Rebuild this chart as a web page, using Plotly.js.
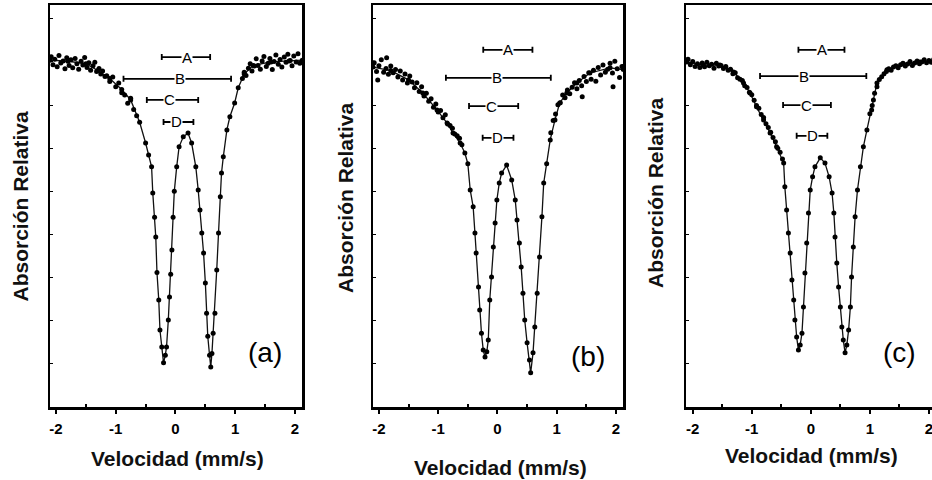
<!DOCTYPE html>
<html><head><meta charset="utf-8">
<script src="https://cdn.plot.ly/plotly-3.0.1.min.js"></script>
<style>html,body{margin:0;padding:0;overflow:hidden;background:#fff}#c{width:940px;height:480px}</style>
</head><body><div id="c"></div>
<script>
// ---- Panel (a) ----
const velA = [-2.1,-1.8,-1.5,-1.3,-1.1,-0.9,-0.75,-0.6,-0.5,-0.45,-0.4,-0.38,-0.35,-0.33,-0.31,-0.28,-0.26,-0.23,-0.2,-0.17,-0.15,-0.12,-0.1,-0.08,-0.06,-0.04,-0.02,0.02,0.06,0.13,0.21,0.27,0.34,0.38,0.41,0.44,0.47,0.5,0.52,0.54,0.57,0.59,0.61,0.63,0.66,0.69,0.72,0.75,0.77,0.8,0.86,0.91,0.99,1.05,1.15,1.3,1.6,1.9,2.12];
const fitA = [100.5,100.2,99.5,97.5,95.2,92.0,89.0,82.5,76.5,73.0,69.6,62.0,55.0,49.3,39.0,31.0,22.3,17.4,12.8,15.0,17.4,25.2,31.9,38.5,45.5,55.0,62.5,69.6,75.4,78.3,79.4,76.5,69.6,62.9,57.1,50.4,44.6,35.9,27.2,20.5,15.0,11.6,15.5,21.4,27.2,39.7,50.4,60.9,67.8,72.5,80.3,84.1,88.1,92.5,96.5,99.0,100.0,100.3,100.5];
const wingVelA = [-2.08,-2.05,-2.02,-1.98,-1.95,-1.92,-1.88,-1.85,-1.82,-1.78,-1.75,-1.72,-1.68,-1.65,-1.62,-1.58,-1.55,-1.52,-1.48,-1.45,-1.42,-1.38,-1.35,-1.32,-1.28,-1.25,-1.22,-1.18,-1.15,
  -1.1,-1.05,-1.0,-0.95,-0.9,-0.85,-0.8,-0.75,-0.7,-0.65,
  1.12,1.15,1.18,1.22,1.25,1.28,1.32,1.35,1.38,1.42,1.45,1.48,1.52,1.55,1.58,1.62,1.65,1.68,1.72,1.75,1.78,1.82,1.85,1.88,1.92,1.95,1.98,2.02,2.05,2.08];
const wingA = [101.5,99.2,100.8,98.6,101.9,99.7,100.3,98.0,101.2,99.0,100.6,98.3,101.0,99.5,97.9,100.2,99.1,101.3,98.4,99.8,97.6,98.9,99.9,97.2,98.1,96.5,97.4,95.8,96.0,
  94.3,95.6,92.8,93.9,91.1,90.4,88.0,89.5,86.2,84.4,
  95.2,97.0,96.1,98.2,99.5,97.4,98.8,100.9,99.0,97.9,100.3,101.6,98.7,99.6,101.0,97.8,100.1,102.0,99.3,100.7,98.5,101.4,99.9,102.2,100.4,98.9,101.7,100.0,102.4,99.6];

// ---- Panel (b) ----
const velB = [-2.1,-1.8,-1.5,-1.26,-1.02,-0.85,-0.75,-0.63,-0.55,-0.5,-0.46,-0.41,-0.38,-0.36,-0.32,-0.3,-0.27,-0.24,-0.21,-0.18,-0.155,-0.13,-0.1,-0.07,-0.04,-0.01,0.03,0.07,0.155,0.24,0.3,0.33,0.37,0.4,0.43,0.46,0.5,0.54,0.56,0.6,0.63,0.67,0.71,0.75,0.78,0.83,0.89,0.97,1.05,1.17,1.34,1.56,1.9,2.12];
const fitB = [98.5,97.5,94.8,91.0,86.1,82.3,79.4,76.5,73.6,70.5,62.9,58.0,50.4,44.6,34.8,28.1,21.4,16.5,14.5,16.0,19.4,31.0,37.7,46.4,53.3,60.0,64.9,67.8,70.1,65.8,60.0,54.2,47.5,40.6,33.0,25.2,18.6,13.6,9.9,15.7,23.2,33.0,43.5,55.1,64.9,70.5,77.4,83.2,88.1,91.0,93.9,96.8,98.3,97.8];
const wingVelB = [-2.08,-2.04,-2.02,-2.0,-1.96,-1.92,-1.88,-1.87,-1.84,-1.8,-1.76,-1.72,-1.68,-1.64,-1.6,-1.56,-1.52,-1.48,-1.44,-1.4,-1.36,-1.32,-1.28,-1.24,-1.2,-1.16,-1.12,-1.08,-1.04,-1.0,-0.96,-0.92,-0.88,-0.84,-0.8,-0.76,-0.72,-0.68,-0.64,-0.6,
  0.9,0.94,0.98,1.02,1.06,1.1,1.14,1.18,1.22,1.26,1.3,1.34,1.38,1.42,1.43,1.46,1.5,1.54,1.58,1.62,1.66,1.7,1.74,1.78,1.82,1.86,1.9,1.94,1.95,1.98,2.02,2.06,2.1];
const wingB = [99.8,97.2,94.8,98.9,100.6,97.0,98.1,101.2,96.4,98.8,96.9,97.8,95.6,97.4,94.8,96.5,93.9,95.9,94.2,92.5,94.0,91.4,92.8,90.1,90.9,88.6,89.3,86.9,87.8,85.5,85.9,83.8,84.7,82.0,81.6,80.8,79.1,78.6,77.9,76.0,
  79.5,83.0,84.9,87.6,88.2,90.4,89.6,91.9,90.8,92.7,94.0,92.2,94.6,93.1,89.9,95.8,94.3,96.9,95.0,97.6,94.4,98.4,96.2,99.1,97.0,97.9,99.6,96.8,92.8,100.2,98.0,95.5,98.7];

// ---- Panel (c) ----
const velC = [-2.1,-1.82,-1.54,-1.31,-1.14,-1.03,-0.92,-0.8,-0.69,-0.58,-0.46,-0.44,-0.41,-0.38,-0.35,-0.32,-0.29,-0.27,-0.24,-0.21,-0.18,-0.15,-0.125,-0.1,-0.07,-0.04,-0.01,0.03,0.07,0.16,0.24,0.31,0.36,0.39,0.41,0.44,0.47,0.5,0.525,0.55,0.58,0.61,0.64,0.67,0.69,0.72,0.75,0.79,0.84,0.89,0.95,1.03,1.06,1.12,1.29,1.57,1.85,2.12];
const fitC = [100.0,99.1,99.1,97.1,93.9,91.0,87.0,83.2,79.4,75.4,70.7,63.8,57.1,50.4,44.6,36.8,31.0,25.2,20.3,16.5,18.0,21.4,29.0,38.8,47.5,56.2,62.9,66.7,69.6,72.2,70.7,66.7,62.0,56.2,49.3,41.7,34.8,29.0,23.2,19.4,15.7,18.0,22.3,29.0,37.7,46.4,55.1,62.9,69.6,75.4,80.3,86.1,89.0,93.9,97.7,99.4,100.0,100.0];
const wingVelC = [-2.08,-2.04,-2.0,-1.96,-1.92,-1.88,-1.84,-1.8,-1.76,-1.72,-1.68,-1.64,-1.6,-1.56,-1.52,-1.48,-1.44,-1.4,-1.36,-1.32,-1.28,-1.24,-1.2,-1.16,-1.12,-1.08,-1.04,-1.0,-0.96,-0.92,-0.88,-0.84,-0.8,-0.76,-0.72,-0.68,-0.64,-0.6,-0.56,-0.52,-0.48,
  1.0,1.04,1.08,1.12,1.16,1.2,1.24,1.28,1.32,1.36,1.4,1.44,1.48,1.52,1.56,1.6,1.64,1.68,1.72,1.76,1.8,1.84,1.88,1.92,1.96,2.0,2.04,2.08,2.12];
const wingC = [100.8,99.2,100.1,98.7,99.5,98.4,99.7,98.6,99.9,98.9,99.3,98.2,99.6,98.8,99.0,98.1,98.7,97.6,97.9,96.6,96.9,95.4,95.0,94.6,93.1,92.6,91.2,90.5,88.9,87.4,86.6,84.8,83.9,82.1,81.0,79.6,78.1,76.9,75.0,73.8,71.9,
  85.0,87.4,90.9,92.8,94.9,95.7,96.6,97.2,98.0,97.6,98.5,98.9,98.3,99.2,99.6,98.8,99.4,100.1,99.0,99.7,100.3,99.5,100.0,100.6,99.8,100.4,99.9,100.7,100.2];

// ---- Range bars A-D ----
const barNames = ['A','B','C','D'];
const barLoA = [-0.23,-0.87,-0.48,-0.20], barHiA = [0.58,0.93,0.38,0.30], barYA = [101.4,95.1,89.0,82.6], barMidA = [0.19,0.075,-0.10,0.02];
const barLoB = [-0.24,-0.87,-0.48,-0.25], barHiB = [0.59,0.90,0.35,0.27], barYB = [103.5,95.4,87.2,78.0], barMidB = [0.18,-0.01,-0.10,0.00];
const barLoC = [-0.21,-0.86,-0.47,-0.24], barHiC = [0.57,0.94,0.34,0.28], barYC = [103.5,95.9,87.5,78.6], barMidC = [0.19,-0.11,-0.08,0.02];

const panelLabels = ['(a)','(b)','(c)'];
const panelLabelPos = [[1.5,15.7],[1.52,14.5],[1.51,15.7]];
const tickVals = [-2,-1,0,1,2];
const tickText = ['-2','-1','0','1','2'];
const xTitle = 'Velocidad (mm/s)';
const yTitle = 'Absorción Relativa';

const FONT = 'Liberation Sans, Arial, Helvetica, sans-serif';
const W = 940, H = 480;

const panels = [
  {vel: velA, fit: fitA, wv: wingVelA, wy: wingA, lo: barLoA, hi: barHiA, by: barYA, mid: barMidA,
   dom: [50, 302], range: [-2.1, 2.117], yt: [20, 206.5], xt: [177, 458]},
  {vel: velB, fit: fitB, wv: wingVelB, wy: wingB, lo: barLoB, hi: barHiB, by: barYB, mid: barMidB,
   dom: [373, 623], range: [-2.1, 2.118], yt: [345, 198], xt: [500, 467]},
  {vel: velC, fit: fitC, wv: wingVelC, wy: wingC, lo: barLoC, hi: barHiC, by: barYC, mid: barMidC,
   dom: [686, 936], range: [-2.114, 2.12], yt: [655, 193], xt: [811, 455]}
];

const traces = [];
const layout = {
  width: W, height: H, margin: {l: 0, r: 0, t: 0, b: 0},
  paper_bgcolor: '#fff', plot_bgcolor: '#fff', showlegend: false,
  font: {family: FONT, color: '#000'},
  annotations: []
};

panels.forEach((p, i) => {
  const s = i === 0 ? '' : String(i + 1);
  const xa = 'x' + s, ya = 'y' + s;
  // fitted curve
  traces.push({x: p.vel, y: p.fit, xaxis: xa, yaxis: ya, type: 'scatter', mode: 'lines',
    line: {color: '#111', width: 1.3}, hoverinfo: 'skip'});
  // data points
  traces.push({x: p.vel.concat(p.wv), y: p.fit.concat(p.wy), xaxis: xa, yaxis: ya, type: 'scatter', mode: 'markers',
    marker: {color: '#000', size: 5, symbol: 'circle'}, hoverinfo: 'skip'});
  // range bars
  traces.push({x: p.mid, y: p.by, xaxis: xa, yaxis: ya, type: 'scatter', mode: 'markers',
    marker: {size: 1, color: 'rgba(0,0,0,0)'},
    error_x: {type: 'data', symmetric: false,
      array: p.hi.map((h, k) => h - p.mid[k]),
      arrayminus: p.lo.map((l, k) => p.mid[k] - l),
      color: '#000', thickness: 1.8, width: 3},
    hoverinfo: 'skip'});
  barNames.forEach((n, k) => {
    layout.annotations.push({xref: xa, yref: ya, x: p.mid[k], y: p.by[k], text: n, showarrow: false,
      bgcolor: '#fff', borderpad: 0, font: {family: FONT, size: 15, color: '#000'}});
  });
  layout.annotations.push({xref: xa, yref: ya, x: panelLabelPos[i][0], y: panelLabelPos[i][1], text: panelLabels[i],
    showarrow: false, font: {family: FONT, size: 28, color: '#000'}});
  layout.annotations.push({xref: 'paper', yref: 'paper', x: p.yt[0] / W, y: 1 - p.yt[1] / H, text: yTitle,
    textangle: -90, showarrow: false, xanchor: 'center', yanchor: 'middle',
    font: {family: FONT, size: 21, color: '#111', weight: 'bold'}});
  layout.annotations.push({xref: 'paper', yref: 'paper', x: p.xt[0] / W, y: 1 - p.xt[1] / H, text: xTitle,
    showarrow: false, xanchor: 'center', yanchor: 'middle',
    font: {family: FONT, size: 21, color: '#111', weight: 'bold'}});

  layout['xaxis' + s] = {
    domain: [p.dom[0] / W, p.dom[1] / W], range: p.range, anchor: ya,
    showline: true, linewidth: 2.5, linecolor: '#000', mirror: true,
    ticks: 'outside', ticklen: 4, tickwidth: 2, tickcolor: '#000',
    tickmode: 'array', tickvals: tickVals, ticktext: tickText,
    tickfont: {family: FONT, size: 15, color: '#000', weight: 'bold'},
    ticklabelstandoff: 2,
    minor: {tickmode: 'array', tickvals: [-1.5, -0.5, 0.5, 1.5], ticks: 'inside', ticklen: 3, tickwidth: 2, tickcolor: '#000'},
    showgrid: false, zeroline: false, fixedrange: true
  };
  layout['yaxis' + s] = {
    domain: [73 / H, 475 / H], range: [0, 116.5], anchor: xa,
    showline: true, linewidth: 2.5, linecolor: '#000', mirror: true,
    ticks: 'inside', ticklen: 3, tickwidth: 1, tickcolor: '#000', tick0: 0, dtick: 12.5,
    showticklabels: false, showgrid: false, zeroline: false, fixedrange: true
  };
});

Plotly.newPlot('c', traces, layout, {displayModeBar: false, staticPlot: true});
</script>
</body></html>
